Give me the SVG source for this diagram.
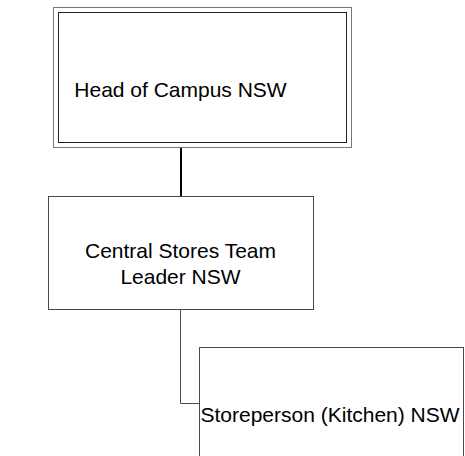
<svg xmlns="http://www.w3.org/2000/svg" width="465" height="456" viewBox="0 0 465 456">
  <style>
    .lbl { font-family: "Liberation Sans", Arial, sans-serif; font-size: 21px; fill: #000; }
    .box { fill: #fff; stroke: #4a4a4a; stroke-width: 1; }
    .outer { fill: #fff; stroke: #777; stroke-width: 1; }
    .inner { fill: none; stroke: #222; stroke-width: 1; }
  </style>
  <rect width="465" height="456" fill="#fff"/>
  <g id="connectors">
    <line x1="181" y1="148" x2="181" y2="196" stroke="#000" stroke-width="2"/>
    <polyline points="180.5,309.5 180.5,403.5 199.5,403.5" fill="none" stroke="#4a4a4a" stroke-width="1"/>
  </g>
  <g id="head-of-campus">
    <rect class="outer" x="53.5" y="7.5" width="298" height="140"/>
    <rect class="inner" x="58.5" y="12.5" width="288" height="130"/>
    <text class="lbl" x="180.5" y="97" text-anchor="middle">Head of Campus NSW</text>
  </g>
  <g id="central-stores-team-leader">
    <rect class="box" x="48.5" y="196.5" width="265" height="113"/>
    <text class="lbl" x="180.5" y="258" text-anchor="middle">Central Stores Team</text>
    <text class="lbl" x="180.5" y="284" text-anchor="middle">Leader NSW</text>
  </g>
  <g id="storeperson-kitchen">
    <rect class="box" x="199.5" y="347.5" width="264" height="120"/>
    <text class="lbl" x="200.5" y="422">Storeperson (Kitchen) NSW</text>
  </g>
</svg>
